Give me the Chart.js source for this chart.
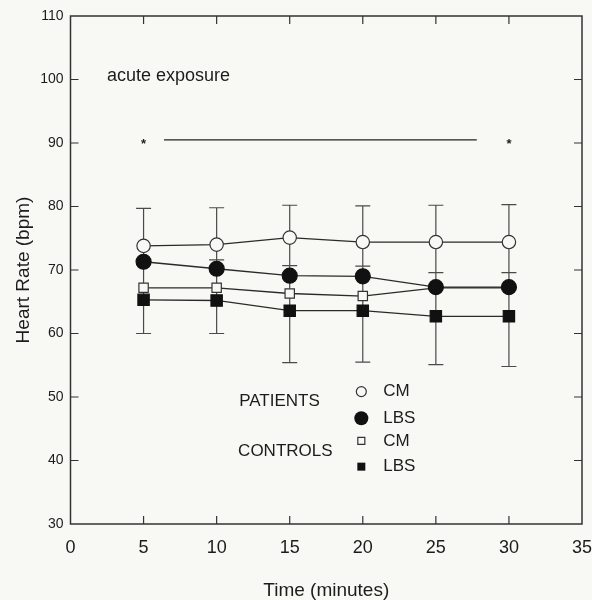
<!DOCTYPE html>
<html><head><meta charset="utf-8">
<script src="https://cdn.jsdelivr.net/npm/chart.js@4"></script>
<style>html,body{margin:0;padding:0;background:#f8f8f4;}#wrap{width:592px;height:600px;}</style>
</head><body><div id="wrap"><canvas id="c" width="592" height="600"></canvas></div>
<script>
// ---- data ----
const times = [5, 10, 15, 20, 25, 30];
const patientsCM  = [73.8, 74.0, 75.1, 74.4, 74.4, 74.4];
const patientsLBS = [71.3, 70.2, 69.1, 69.0, 67.3, 67.3];
const controlsCM  = [67.2, 67.2, 66.3, 65.9, 67.2, 67.2];
const controlsLBS = [65.3, 65.2, 63.6, 63.6, 62.7, 62.7];
const patientsCMUpper  = [79.7, 79.8, 80.2, 80.1, 80.2, 80.3];
const patientsCMLower  = [71.3, 71.6, 70.7, 70.6, 69.6, 69.6];
const controlsLBSLower = [60.0, 60.0, 55.4, 55.5, 55.1, 54.8];
const xTickValues = [0, 5, 10, 15, 20, 25, 30, 35];
const yTickValues = [30, 40, 50, 60, 70, 80, 90, 100, 110];
const starTimes = [5, 30];
const starLevel = 90.3;
const sigBarFrom = 6.4, sigBarTo = 27.8, sigBarLevel = 90.5;
const noteText = 'acute exposure';
const legendGroups = ['PATIENTS', 'CONTROLS'];
const legendItems = ['CM', 'LBS', 'CM', 'LBS'];

// ---- styling ----
const FONT = '"Liberation Sans", Arial, Helvetica, sans-serif';
const INK = '#1c1c1c';
const BG = '#f8f8f4';
const toXY = arr => times.map((t, i) => ({x: t, y: arr[i]}));

const decor = {
  id: 'decor',
  beforeDraw(chart) {
    const {ctx, width, height} = chart;
    ctx.save(); ctx.fillStyle = BG; ctx.fillRect(0, 0, width, height); ctx.restore();
  },
  beforeDatasetsDraw(chart) {
    const {ctx, scales: {x, y}} = chart;
    ctx.save();
    ctx.strokeStyle = '#4a4a4a'; ctx.lineWidth = 1.2;
    const cap = 7.5;
    times.forEach((t, i) => {
      const px = x.getPixelForValue(t);
      const top = y.getPixelForValue(patientsCMUpper[i]);
      const mid = y.getPixelForValue(patientsCMLower[i]);
      const bot = y.getPixelForValue(controlsLBSLower[i]);
      ctx.beginPath();
      ctx.moveTo(px, top); ctx.lineTo(px, bot);
      [top, mid, bot].forEach(yy => { ctx.moveTo(px - cap, yy); ctx.lineTo(px + cap, yy); });
      ctx.stroke();
    });
    ctx.restore();
  },
  afterDraw(chart) {
    const {ctx, chartArea: a, scales: {x, y}} = chart;
    ctx.save();
    // frame
    ctx.strokeStyle = '#333'; ctx.lineWidth = 1.5;
    ctx.strokeRect(a.left, a.top, a.right - a.left, a.bottom - a.top);
    // inward ticks on all four sides
    ctx.lineWidth = 1.2;
    const L = 8;
    ctx.beginPath();
    xTickValues.slice(1, -1).forEach(v => {
      const px = x.getPixelForValue(v);
      ctx.moveTo(px, a.bottom); ctx.lineTo(px, a.bottom - L);
      ctx.moveTo(px, a.top); ctx.lineTo(px, a.top + L);
    });
    yTickValues.slice(1, -1).forEach(v => {
      const py = y.getPixelForValue(v);
      ctx.moveTo(a.left, py); ctx.lineTo(a.left + L, py);
      ctx.moveTo(a.right, py); ctx.lineTo(a.right - L, py);
    });
    ctx.stroke();
    // annotation text
    ctx.fillStyle = INK;
    ctx.font = '18px ' + FONT;
    ctx.textBaseline = 'middle'; ctx.textAlign = 'left';
    ctx.fillText(noteText, x.getPixelForValue(2.5), y.getPixelForValue(100.5));
    // significance stars and bar
    ctx.font = 'bold 13px ' + FONT; ctx.textAlign = 'center';
    starTimes.forEach(t => ctx.fillText('*', x.getPixelForValue(t), y.getPixelForValue(starLevel) + 3));
    ctx.strokeStyle = '#222'; ctx.lineWidth = 1.3;
    ctx.beginPath();
    ctx.moveTo(x.getPixelForValue(sigBarFrom), y.getPixelForValue(sigBarLevel));
    ctx.lineTo(x.getPixelForValue(sigBarTo), y.getPixelForValue(sigBarLevel));
    ctx.stroke();
    // legend
    ctx.font = '17px ' + FONT; ctx.textAlign = 'center';
    ctx.fillText(legendGroups[0], x.getPixelForValue(14.3), y.getPixelForValue(49.3));
    ctx.fillText(legendGroups[1], x.getPixelForValue(14.7), y.getPixelForValue(41.5));
    const mx = x.getPixelForValue(19.9), tx = x.getPixelForValue(21.4);
    const rows = [50.85, 46.66, 43.08, 39.03];
    ctx.textAlign = 'left';
    rows.forEach((v, i) => {
      const py = y.getPixelForValue(v);
      ctx.fillStyle = INK;
      ctx.fillText(legendItems[i], tx, py);
      ctx.lineWidth = 1.2; ctx.strokeStyle = '#333';
      ctx.beginPath();
      if (i === 0) { ctx.arc(mx, py, 5, 0, Math.PI * 2); ctx.fillStyle = BG; ctx.fill(); ctx.stroke(); }
      else if (i === 1) { ctx.arc(mx, py, 7, 0, Math.PI * 2); ctx.fillStyle = '#111'; ctx.fill(); }
      else if (i === 2) { ctx.rect(mx - 3.5, py - 3.5, 7, 7); ctx.fillStyle = BG; ctx.fill(); ctx.stroke(); }
      else { ctx.rect(mx - 4, py - 4, 8, 8); ctx.fillStyle = '#111'; ctx.fill(); }
    });
    ctx.restore();
  }
};

const lineDs = (label, arr, style, radius, fill, border) => ({
  label, data: toXY(arr),
  borderColor: '#2a2a2a', borderWidth: 1.3,
  pointStyle: style, pointRadius: radius, pointHoverRadius: radius,
  pointBackgroundColor: fill, pointBorderColor: border, pointBorderWidth: 1.2,
  tension: 0, fill: false
});

new Chart(document.getElementById('c'), {
  type: 'line',
  data: {
    datasets: [
      lineDs('Patients CM', patientsCM, 'circle', 6.7, BG, '#333'),
      lineDs('Patients LBS', patientsLBS, 'circle', 7.5, '#111', '#111'),
      lineDs('Controls CM', controlsCM, 'rect', 6.6, BG, '#333'),
      lineDs('Controls LBS', controlsLBS, 'rect', 8, '#111', '#111')
    ]
  },
  options: {
    responsive: false, animation: false, devicePixelRatio: 1,
    layout: {padding: {top: 16, right: 10, left: 0, bottom: 0}},
    plugins: {legend: {display: false}, tooltip: {enabled: false}},
    scales: {
      x: {
        type: 'linear', min: 0, max: 35,
        afterBuildTicks: s => { s.ticks = xTickValues.map(v => ({value: v})); },
        afterFit: s => { s.height = 76; s.paddingLeft = 0; s.paddingRight = 0; },
        grid: {display: false, drawTicks: false},
        border: {display: false},
        ticks: {color: INK, font: {family: FONT, size: 18}, padding: 13, maxRotation: 0, autoSkip: false},
        title: {display: true, text: 'Time (minutes)', color: INK, font: {family: FONT, size: 19, lineHeight: 1}, padding: 0}
      },
      y: {
        type: 'linear', min: 30, max: 110,
        afterBuildTicks: s => { s.ticks = yTickValues.map(v => ({value: v})); },
        afterFit: s => { s.width = 70.5; s.paddingTop = 0; s.paddingBottom = 0; },
        grid: {display: false, drawTicks: false},
        border: {display: false},
        ticks: {color: INK, font: {family: FONT, size: 14}, padding: 7, autoSkip: false},
        title: {display: true, text: 'Heart Rate (bpm)', color: INK, font: {family: FONT, size: 19, lineHeight: 1}, padding: {top: 14, bottom: 0}}
      }
    }
  },
  plugins: [decor]
});
</script></body></html>
